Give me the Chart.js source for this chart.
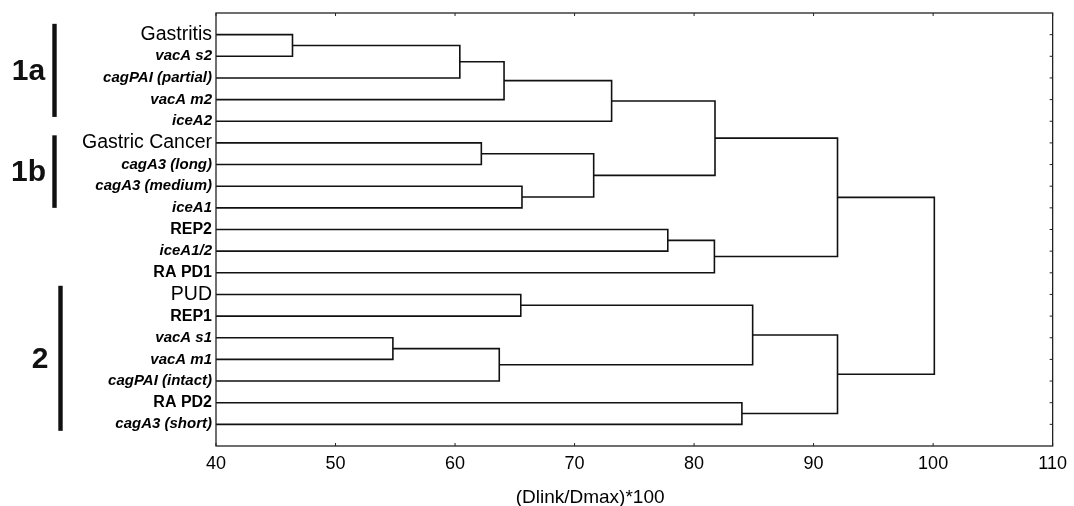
<!DOCTYPE html>
<html>
<head>
<meta charset="utf-8">
<script src="https://cdn.jsdelivr.net/npm/chart.js@4/dist/chart.umd.min.js"></script>
<style>
  html, body { margin: 0; padding: 0; background: #fff; }
  #wrap { width: 1074px; height: 506px; position: relative; }
</style>
</head>
<body>
<div id="wrap"><canvas id="c"></canvas></div>
<script>
// leaves, top to bottom
const leaves = [
  'Gastritis', 'vacA s2', 'cagPAI (partial)', 'vacA m2', 'iceA2',
  'Gastric Cancer', 'cagA3 (long)', 'cagA3 (medium)', 'iceA1',
  'REP2', 'iceA1/2', 'RA PD1',
  'PUD', 'REP1', 'vacA s1', 'vacA m1', 'cagPAI (intact)', 'RA PD2', 'cagA3 (short)'
];

// linkage: index < leaves.length is a leaf, otherwise merge (index - leaves.length)
const mergeLeft   = [0, 19, 20, 21, 5, 7, 23, 22, 9, 27, 26, 12, 14, 31, 30, 17, 33, 29];
const mergeRight  = [1, 2, 3, 4, 6, 8, 24, 25, 10, 11, 28, 13, 15, 16, 32, 18, 34, 35];
const mergeHeight = [46.4, 60.4, 64.1, 73.1, 62.2, 65.6, 71.6, 81.75, 77.8, 81.7, 92.0,
                     65.5, 54.8, 63.7, 84.9, 84.0, 92.0, 100.1];

const xTicks = [40, 50, 60, 70, 80, 90, 100, 110];
const xTitle = '(Dlink/Dmax)*100';

// cluster groups marked on the left
const groupNames = ['1a', '1b', '2'];
const groupFrom  = [-0.5, 4.65, 11.6];
const groupTo    = [3.8, 8.0, 18.3];

// label styles
const bigLabels  = new Set(['Gastritis', 'Gastric Cancer', 'PUD']);
const boldLabels = new Set(['REP2', 'RA PD1', 'REP1', 'RA PD2']);
const FONT = '"Liberation Sans", Arial, sans-serif';

// positions of nodes
const nLeaf = leaves.length;
function nodeY(i) {
  if (i < nLeaf) return i;
  const m = i - nLeaf;
  return (nodeY(mergeLeft[m]) + nodeY(mergeRight[m])) / 2;
}
function nodeX(i) {
  return i < nLeaf ? xTicks[0] : mergeHeight[i - nLeaf];
}

const datasets = mergeHeight.map((h, m) => {
  const a = mergeLeft[m], b = mergeRight[m];
  return {
    data: [
      { x: nodeX(a), y: nodeY(a) },
      { x: h, y: nodeY(a) },
      { x: h, y: nodeY(b) },
      { x: nodeX(b), y: nodeY(b) }
    ],
    showLine: true,
    borderColor: '#111',
    borderWidth: 1.6,
    pointRadius: 0,
    fill: false
  };
});

const framePlugin = {
  id: 'frame',
  afterDatasetsDraw(chart) {
    const { ctx, chartArea: a, scales } = chart;
    ctx.save();
    ctx.strokeStyle = '#222';
    ctx.lineWidth = 1.3;
    ctx.strokeRect(a.left, a.top, a.right - a.left, a.bottom - a.top);
    ctx.lineWidth = 1;
    ctx.beginPath();
    xTicks.forEach(v => {
      const px = scales.x.getPixelForValue(v);
      ctx.moveTo(px, a.bottom); ctx.lineTo(px, a.bottom - 3);
      ctx.moveTo(px, a.top); ctx.lineTo(px, a.top + 3);
    });
    leaves.forEach((_, i) => {
      const py = scales.y.getPixelForValue(i);
      ctx.moveTo(a.right, py); ctx.lineTo(a.right - 3, py);
    });
    ctx.stroke();

    // axis title
    ctx.fillStyle = '#000';
    ctx.font = '19px ' + FONT;
    ctx.textAlign = 'center';
    ctx.textBaseline = 'middle';
    ctx.fillText(xTitle, scales.x.getPixelForValue(71.3), 498);

    // group markers
    ctx.fillStyle = '#111';
    ctx.font = 'bold 30px ' + FONT;
    groupNames.forEach((g, k) => {
      const y0 = scales.y.getPixelForValue(groupFrom[k]);
      const y1 = scales.y.getPixelForValue(groupTo[k]);
      const bx = k === 2 ? 60.5 : 54.5;
      ctx.fillRect(bx - 2.2, y0, 4.4, y1 - y0);
      const tx = k === 2 ? 40 : 28.5;
      ctx.fillText(g, tx, (y0 + y1) / 2 + 1);
    });
    ctx.restore();
  }
};

new Chart(document.getElementById('c'), {
  type: 'scatter',
  data: { datasets },
  options: {
    responsive: true,
    maintainAspectRatio: false,
    animation: false,
    layout: { padding: { left: 0, top: 11, right: 18, bottom: 0 } },
    plugins: { legend: { display: false }, tooltip: { enabled: false } },
    scales: {
      x: {
        type: 'linear',
        min: 40, max: 110,
        afterFit(s) { s.height = 60; },
        afterBuildTicks(s) { s.ticks = xTicks.map(v => ({ value: v })); },
        grid: { display: false, drawTicks: false, tickLength: 0 },
        border: { display: false },
        ticks: { color: '#000', font: { family: FONT, size: 18 }, padding: 7 }
      },
      y: {
        type: 'linear',
        min: -1, max: 19,
        reverse: true,
        afterFit(s) { s.width = 216; },
        afterBuildTicks(s) { s.ticks = leaves.map((_, i) => ({ value: i })); },
        grid: { display: false, drawTicks: false, tickLength: 0 },
        border: { display: false },
        ticks: {
          autoSkip: false,
          padding: 4,
          color: '#000',
          callback: v => leaves[v] ?? '',
          font: ctx => {
            const name = leaves[ctx.tick ? ctx.tick.value : ctx.index] || '';
            if (bigLabels.has(name)) return { family: FONT, size: 19.5, weight: 'normal' };
            if (boldLabels.has(name)) return { family: FONT, size: 16, weight: 'bold' };
            return { family: FONT, size: 15, weight: 'bold', style: 'italic' };
          }
        }
      }
    }
  },
  plugins: [framePlugin]
});
</script>
</body>
</html>
